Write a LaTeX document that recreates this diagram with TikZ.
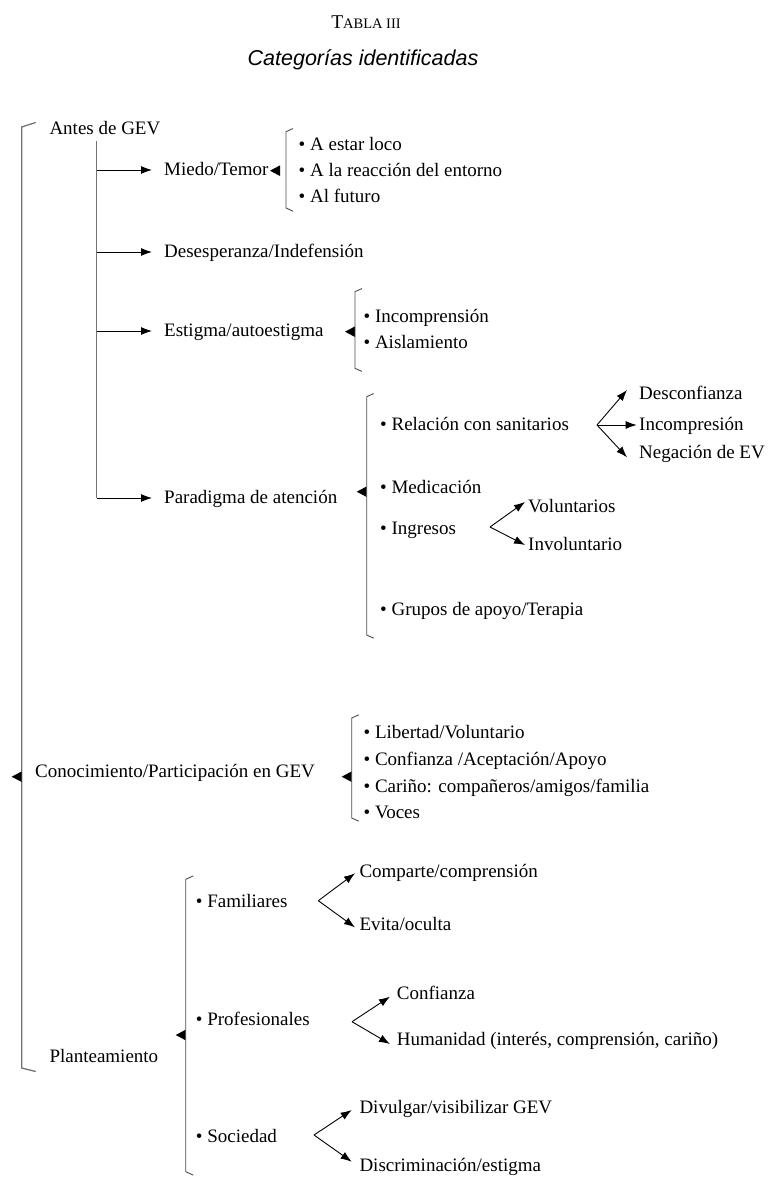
\documentclass[tikz,border=0pt]{standalone}
\usepackage{fontspec}
\setmainfont{Liberation Serif}
\newfontfamily\titlesans{Liberation Sans}
\usetikzlibrary{arrows.meta,calc}
\newcommand\bul{\textbullet\ }
\newcommand\mybrk[4]{\draw[brk] (#1+#4,#2-0.45*#4) -- (#1,#2) -- (#1,#3) -- (#1+#4,#3+0.45*#4);}
\newcommand\mytri[2]{\fill[black] (#1,#2-5.3) -- (#1,#2+5.3) -- (#1-10,#2) -- cycle;}
\begin{document}
\begin{tikzpicture}[x=1pt,y=-1pt,
  txt/.style={inner sep=0pt, anchor=west, text height=11pt, text depth=0pt, font=\fontsize{19}{23}\selectfont},
  arr/.style={-{Latex[length=11pt,width=8pt]}, line width=0.9pt, black},
  trunk/.style={line width=1.3pt, draw=black!55},
  brk/.style={line width=0.9pt, draw=black!70},
]
\useasboundingbox (0,0) rectangle (779,1191);
% titles
\node[anchor=base, inner sep=0pt, font=\fontsize{19.5}{23}\selectfont] (tabla) at (366,28) {T{\fontsize{14.5}{15}\selectfont ABLA III}};
\node[anchor=base, inner sep=0pt, font=\titlesans\itshape\fontsize{21.5}{26}\selectfont] (cat) at (363,65) {Categorías identificadas};
% big bracket
\draw[trunk] (35.7,122.5) -- (21.7,127) -- (21.7,1068) -- (35.7,1071.5);
\mytri{21.7}{776.7}
% first level
\node[txt] (antes) at (49.3,129) {Antes de GEV};
\node[txt] (conoc) at (35,772) {Conocimiento/Participación en GEV};
\node[txt] (plant) at (49.3,1056.7) {Planteamiento};
% Antes de GEV branch
\node[txt] (miedo) at (164,170) {Miedo/Temor};
\node[txt] (deses) at (164,252) {Desesperanza/Indefensión};
\node[txt] (estig) at (164,331) {Estigma/autoestigma};
\node[txt] (parad) at (164,498) {Paradigma de atención};
\coordinate (tr0) at (96.7,141);
\draw[trunk] (tr0) -- (tr0 |- parad.west);
\draw[arr, shorten >=12pt] (tr0 |- miedo.west) -- (miedo.west);
\draw[arr, shorten >=12pt] (tr0 |- deses.west) -- (deses.west);
\draw[arr, shorten >=12pt] (tr0 |- estig.west) -- (estig.west);
\draw[arr, shorten >=12pt] (tr0 |- parad.west) -- (parad.west);
% Miedo group
\mytri{280}{170.7}
\mybrk{286}{131.7}{208}{7}
\node[txt] (m1) at (298.5,145) {\bul A estar loco};
\node[txt] (m2) at (298.5,170.5) {\bul A la reacción del entorno};
\node[txt] (m3) at (298.5,196.7) {\bul Al futuro};
% Estigma group
\mytri{355}{331.7}
\mybrk{355}{291.7}{368.3}{7}
\node[txt] (e1) at (363.4,316.7) {\bul Incomprensión};
\node[txt] (e2) at (363.4,343.3) {\bul Aislamiento};
% Paradigma group
\mytri{366.7}{491.7}
\mybrk{366.7}{396.7}{635}{7}
\node[txt] (p1) at (380,425) {\bul Relación con sanitarios};
\node[txt] (p2) at (380,488.3) {\bul Medicación};
\node[txt] (p3) at (380,529) {\bul Ingresos};
\node[txt] (p4) at (380,610) {\bul Grupos de apoyo/Terapia};
\node[txt] (desc) at (639,394) {Desconfianza};
\node[txt] (inco) at (639,425) {Incompresión};
\node[txt] (nega) at (639,453) {Negación de EV};
\coordinate (relO) at (597,425);
\draw[arr] (relO) -- ($(desc.west)+(-12,-4)$);
\draw[arr] (relO) -- ($(inco.west)+(-2.3,0)$);
\draw[arr] (relO) -- ($(nega.west)+(-12,4.3)$);
\node[txt] (volu) at (528,507) {Voluntarios};
\node[txt] (invo) at (528,545) {Involuntario};
\coordinate (ingO) at (490,527);
\draw[arr] (ingO) -- ($(volu.west)+(-3,-5)$);
\draw[arr] (ingO) -- ($(invo.west)+(-3,0)$);
% Conocimiento group
\mytri{351.7}{776.7}
\mybrk{351.7}{718}{818}{7}
\node[txt] (c1) at (363.4,733.3) {\bul Libertad/Voluntario};
\node[txt] (c2) at (363.4,760) {\bul Confianza /Aceptación/Apoyo};
\node[txt] (c3) at (363.4,786.7) {\bul Cariño: compañeros/amigos/familia};
\node[txt] (c4) at (363.4,813.3) {\bul Voces};
% Planteamiento group
\mytri{185.7}{1035}
\mybrk{185.7}{879.3}{1171.7}{7.6}
\node[txt] (f1) at (195.7,901.7) {\bul Familiares};
\node[txt] (f2) at (195.7,1020) {\bul Profesionales};
\node[txt] (f3) at (195.7,1136.7) {\bul Sociedad};
\node[txt] (comp) at (359.3,871.7) {Comparte/comprensión};
\node[txt] (evit) at (359.3,925) {Evita/oculta};
\coordinate (famO) at (318.3,900.7);
\draw[arr] (famO) -- ($(comp.west)+(-4.3,1.6)$);
\draw[arr] (famO) -- ($(evit.west)+(-4.3,2.3)$);
\node[txt] (conf) at (396.7,994) {Confianza};
\node[txt] (huma) at (396.7,1040) {Humanidad (interés, comprensión, cariño)};
\coordinate (proO) at (352,1021.7);
\draw[arr] (proO) -- ($(conf.west)+(-6.7,2.7)$);
\draw[arr] (proO) -- ($(huma.west)+(-6.7,4)$);
\node[txt] (divu) at (359.3,1108.3) {Divulgar/visibilizar GEV};
\node[txt] (disc) at (359.3,1166) {Discriminación/estigma};
\coordinate (socO) at (314,1135);
\draw[arr] (socO) -- ($(divu.west)+(-7.6,1.7)$);
\draw[arr] (socO) -- ($(disc.west)+(-7.6,-4.3)$);
\end{tikzpicture}
\end{document}
